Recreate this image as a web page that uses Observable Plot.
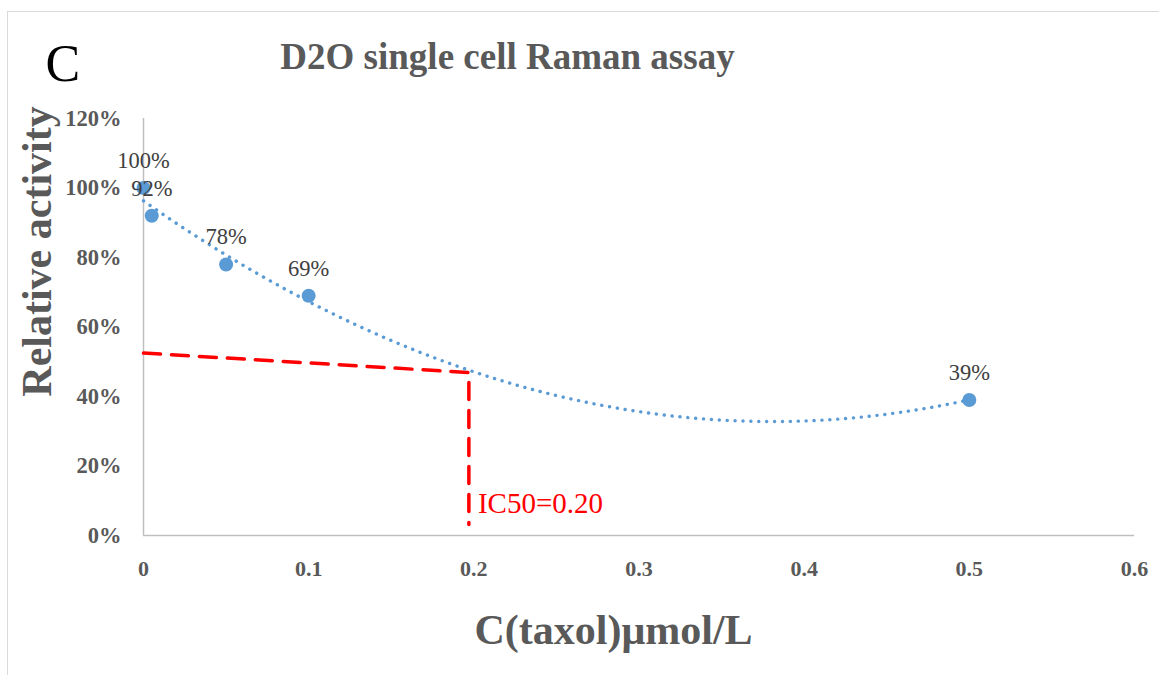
<!DOCTYPE html>
<html><head><meta charset="utf-8">
<script src="https://cdn.jsdelivr.net/npm/d3@7"></script>
<script src="https://cdn.jsdelivr.net/npm/@observablehq/plot@0.6"></script>
<style>
html,body{margin:0;padding:0;background:#fff;overflow:hidden;}
#wrap{position:relative;width:1159px;height:675px;overflow:hidden;}
#frame{position:absolute;left:7px;top:11px;width:1200px;height:700px;border:1.5px solid #d9d9d9;box-sizing:border-box;pointer-events:none;}
#chart{position:absolute;left:0;top:0;}
</style></head>
<body><div id="wrap"><div id="frame"></div><div id="chart"></div></div>
<script>
// ---- data ----
const concentrations = [0, 0.005, 0.05, 0.1, 0.5];
const activity = [1.00, 0.92, 0.78, 0.69, 0.39];
const pointLabels = ["100%", "92%", "78%", "69%", "39%"];
const yTicks = [0, 0.2, 0.4, 0.6, 0.8, 1.0, 1.2];
const yTickLabels = ["0%", "20%", "40%", "60%", "80%", "100%", "120%"];
const xTicks = [0, 0.1, 0.2, 0.3, 0.4, 0.5, 0.6];
const xTickLabels = ["0", "0.1", "0.2", "0.3", "0.4", "0.5", "0.6"];
const ic50LineX = [0, 0.197, 0.197];
const ic50LineY = [0.525, 0.469, 0.032];
const ic50Label = ["IC50=0.20"];
const ic50LabelX = [0.197];
const ic50LabelY = [0.066];
const panelLetter = "C";
const titleText = "D2O single cell Raman assay";
const xTitle = "C(taxol)μmol/L";
const yTitle = "Relative activity";

// ---- tables ----
const points = concentrations.map((c, i) => ({c, a: activity[i], label: pointLabels[i]}));
const icLine = ic50LineX.map((x, i) => ({x, y: ic50LineY[i]}));
const icText = ic50Label.map((t, i) => ({t, x: ic50LabelX[i], y: ic50LabelY[i]}));

// polynomial (order 2) least-squares trendline computed from the data
function quadFit(xs, ys) {
  const S = k => d3.sum(xs, x => x ** k);
  const T = k => d3.sum(xs, (x, i) => x ** k * ys[i]);
  const A = [[S(0), S(1), S(2), T(0)], [S(1), S(2), S(3), T(1)], [S(2), S(3), S(4), T(2)]];
  for (let i = 0; i < 3; i++) {
    for (let j = i + 1; j < 3; j++) {
      const f = A[j][i] / A[i][i];
      for (let k = i; k < 4; k++) A[j][k] -= f * A[i][k];
    }
  }
  const r = [0, 0, 0];
  for (let i = 2; i >= 0; i--) {
    let s = A[i][3];
    for (let k = i + 1; k < 3; k++) s -= A[i][k] * r[k];
    r[i] = s / A[i][i];
  }
  return r;
}
const [q0, q1, q2] = quadFit(concentrations, activity);
const xMin = d3.min(concentrations), xMax = d3.max(concentrations);
const trend = d3.range(0, 201).map(i => {
  const x = xMin + (xMax - xMin) * i / 200;
  return {x, y: q0 + q1 * x + q2 * x * x};
});

const serif = "'Liberation Serif', 'Times New Roman', serif";
const grey = "#595959";

const chart = Plot.plot({
  width: 1159,
  height: 675,
  marginLeft: 143,
  marginRight: 25,
  marginTop: 118,
  marginBottom: 140,
  style: {fontFamily: serif, background: "transparent", overflow: "visible"},
  x: {domain: [0, 0.6]},
  y: {domain: [0, 1.2]},
  marks: [
    Plot.axisY(yTicks, {tickFormat: d => yTickLabels[yTicks.indexOf(d)], tickSize: 0, tickPadding: 22,
      fontSize: 22.5, fontWeight: "bold", color: grey, label: null}),
    Plot.axisX(xTicks, {tickFormat: d => xTickLabels[xTicks.indexOf(d)], tickSize: 0, tickPadding: 25,
      fontSize: 22, fontWeight: "bold", color: grey, label: null}),
    Plot.ruleX([0], {y1: 0, y2: 1.2, stroke: "#bfbfbf", strokeWidth: 1.5}),
    Plot.ruleY([0], {x1: 0, x2: 0.6, stroke: "#bfbfbf", strokeWidth: 1.5}),
    Plot.line(icLine, {x: "x", y: "y", stroke: "#ff0000", strokeWidth: 3.5, strokeDasharray: "17,11"}),
    Plot.text(icText, {x: "x", y: "y", text: "t", dx: 9, textAnchor: "start", lineAnchor: "bottom",
      fill: "#ff0000", fontSize: 29}),
    Plot.line(trend, {x: "x", y: "y", stroke: "#5b9bd5", strokeWidth: 3.4, strokeDasharray: "0.1,7.8",
      strokeLinecap: "round", curve: "linear"}),
    Plot.dot(points, {x: "c", y: "a", r: 7, fill: "#5b9bd5", stroke: "none"}),
    Plot.text(points, {x: "c", y: "a", text: "label", dy: -20, lineAnchor: "bottom", textAnchor: "middle",
      fontSize: 22.5, fill: "#404040"}),
    Plot.text([panelLetter], {frameAnchor: "top-left", dx: -98, dy: -38, textAnchor: "start", lineAnchor: "bottom",
      fontSize: 52, fill: "#000"}),
    Plot.text([titleText], {frameAnchor: "top-left", dx: 364, dy: -50, textAnchor: "middle", lineAnchor: "bottom",
      fontSize: 37, fontWeight: "bold", fill: grey}),
    Plot.text([xTitle], {frameAnchor: "bottom-left", dx: 470, dy: 108, textAnchor: "middle", lineAnchor: "bottom",
      fontSize: 42, fontWeight: "bold", fill: grey}),
    Plot.text([yTitle], {frameAnchor: "top-left", dx: -93, dy: 133, rotate: -90, textAnchor: "middle", lineAnchor: "bottom",
      fontSize: 42, fontWeight: "bold", fill: grey})
  ]
});
document.getElementById("chart").appendChild(chart);
</script>
</body></html>
